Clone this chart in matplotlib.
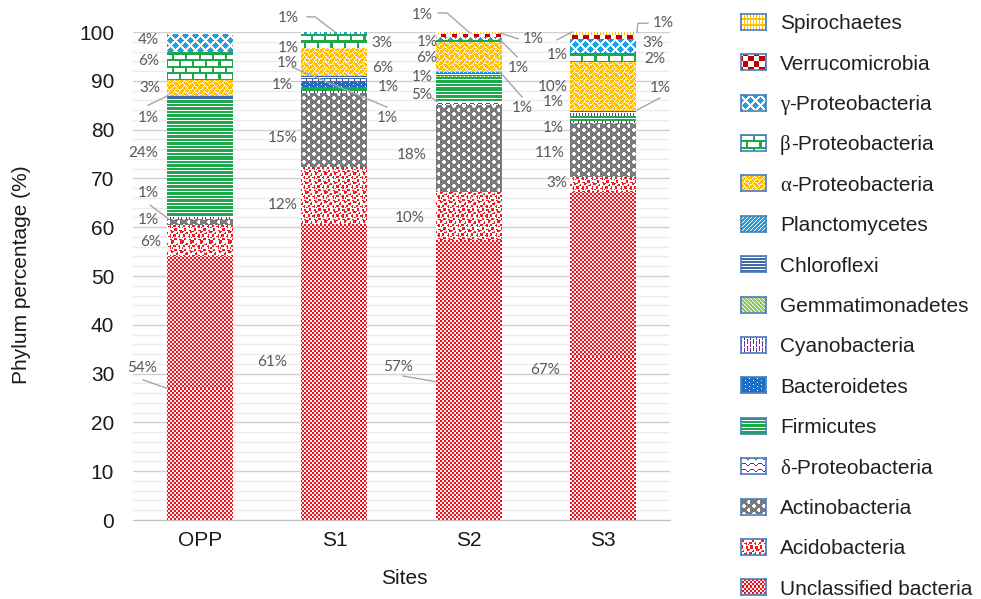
import matplotlib
matplotlib.use("Agg")
import matplotlib.pyplot as plt
import numpy as np
from matplotlib.colors import to_rgb

# ---- data (percent of reads per site) ----
sites = ["OPP", "S1", "S2", "S3"]

unclassified     = [54.2, 60.6, 57.3, 67.3]
acidobacteria    = [6.2, 11.8, 10.0, 3.0]
actinobacteria   = [1.2, 15.1, 17.8, 11.0]
delta_proteo     = [0.5, 0.5, 0.6, 0.5]
firmicutes       = [24.2, 0.7, 5.0, 1.0]
bacteroidetes    = [0.0, 1.2, 0.0, 0.0]
cyanobacteria    = [0.0, 0.5, 0.0, 0.5]
gemmatimonadetes = [0.0, 0.0, 0.3, 0.0]
chloroflexi      = [0.5, 0.6, 0.6, 0.6]
planctomycetes   = [0.0, 0.0, 0.3, 0.0]
alpha_proteo     = [3.3, 5.8, 6.0, 10.0]
beta_proteo      = [5.9, 2.7, 0.5, 1.7]
gamma_proteo     = [3.6, 0.5, 0.6, 3.0]
verrucomicrobia  = [0.0, 0.0, 0.5, 0.7]
spirochaetes     = [0.0, 0.0, 0.5, 0.5]

# stack order, bottom -> top: (key, legend name, values)
stack = [
    ("uncl", "Unclassified bacteria", unclassified),
    ("acido", "Acidobacteria", acidobacteria),
    ("actino", "Actinobacteria", actinobacteria),
    ("delta", "δ-Proteobacteria", delta_proteo),
    ("firm", "Firmicutes", firmicutes),
    ("bacter", "Bacteroidetes", bacteroidetes),
    ("cyano", "Cyanobacteria", cyanobacteria),
    ("gemm", "Gemmatimonadetes", gemmatimonadetes),
    ("chloro", "Chloroflexi", chloroflexi),
    ("plancto", "Planctomycetes", planctomycetes),
    ("alpha", "α-Proteobacteria", alpha_proteo),
    ("beta", "β-Proteobacteria", beta_proteo),
    ("gamma", "γ-Proteobacteria", gamma_proteo),
    ("verru", "Verrucomicrobia", verrucomicrobia),
    ("spiro", "Spirochaetes", spirochaetes),
]

# data label placement: (site index, key, x, y) and leader lines
labels = [
    (0, "gamma", -0.387, 98.4), (0, "beta", -0.387, 94.1), (0, "alpha", -0.372, 88.5),
    (0, "chloro", -0.387, 82.4), (0, "firm", -0.425, 75.2), (0, "delta", -0.387, 67.0),
    (0, "actino", -0.387, 61.5), (0, "acido", -0.372, 57.0), (0, "uncl", -0.433, 31.1),
    (1, "gamma", 0.655, 102.9), (1, "chloro", 0.655, 96.7), (1, "beta", 1.355, 97.7),
    (1, "cyano", 0.648, 93.6), (1, "alpha", 1.362, 92.6), (1, "bacter", 0.61, 89.1),
    (1, "firm", 1.40, 88.7), (1, "delta", 1.391, 82.4), (1, "actino", 0.617, 78.3),
    (1, "acido", 0.617, 64.5), (1, "uncl", 0.535, 32.4),
    (2, "spiro", 1.653, 103.5), (2, "verru", 2.480, 98.6), (2, "gamma", 1.690, 97.95),
    (2, "alpha", 1.690, 94.7), (2, "beta", 2.368, 92.6), (2, "chloro", 1.653, 90.8),
    (2, "firm", 1.653, 87.1), (2, "delta", 2.398, 84.4), (2, "actino", 1.579, 74.8),
    (2, "acido", 1.564, 61.9), (2, "uncl", 1.475, 31.4),
    (3, "spiro", 3.448, 101.8), (3, "verru", 2.659, 95.3), (3, "gamma", 3.373, 97.7),
    (3, "beta", 3.388, 94.5), (3, "alpha", 2.629, 88.7), (3, "chloro", 2.629, 85.7),
    (3, "firm", 3.425, 88.5), (3, "delta", 2.629, 80.3), (3, "actino", 2.606, 75.2),
    (3, "acido", 2.659, 69.1), (3, "uncl", 2.569, 30.7),
]
leaders = [
    [(-0.387, 85.0), (-0.246, 86.9)],
    [(-0.372, 64.5), (-0.240, 61.8)],
    [(-0.425, 28.7), (-0.247, 27.0)],
    [(0.796, 103.1), (0.856, 103.1), (1.005, 100.0)],
    [(0.685, 92.8), (1.391, 84.6)],
    [(1.772, 103.9), (1.839, 103.9), (2.010, 99.8)],
    [(2.368, 98.6), (2.234, 99.8)],
    [(2.361, 94.9), (2.234, 98.4)],
    [(1.727, 86.5), (1.765, 85.7)],
    [(2.398, 86.7), (2.234, 91.8)],
    [(1.512, 29.5), (1.765, 28.3)],
    [(3.336, 101.8), (3.261, 101.8), (3.254, 100.0)],
    [(2.659, 98.4), (2.771, 100.0)],
    [(3.425, 86.5), (3.254, 84.0)],
]

# ---- fill patterns ('#' = colour, '.' = background) ----
tiles = {
    "uncl": (["##..", "##..", "..##", "..##"], "#e8141f", "#ffecec", 1.0),
    "acido": (["#.....##", "...#..##", "..##....", "##...#..",
               "##..##..", ".....#.#", ".##.....", ".##..##."], "#ee1c25", "white", 1.2),
    "actino": (["###..#####", "##....####", "##....####", "###..#####",
                "########..", "#######...", "#######...", "########.."], "#7a7a7a", "white", 1.0),
    "delta": (["........", "##....##", "..#..#..", "...##...", "........", "........"],
              "#7030a0", "white", 1.0),
    "firm": (["#", "#", ".", "#", "#", "#", "."], "#1ea84c", "white", 1.0),
    "bacter": (["#.######", "########", "#####.##", "########"], "#1f6fc0", "white", 1.0),
    "cyano": (["#..#..", "#..#..", "#.....", "#..#..", "...#..", "#..#.."], "#7030a0", "white", 1.0),
    "gemm": ([".###", "#.##", "##.#", "###."], "#8fcf4c", "white", 1.0),
    "chloro": (["#", "#", "."], "#3f6aa8", "white", 1.0),
    "plancto": (["###.", "##.#", "#.##", ".###"], "#1aa3e8", "white", 1.0),
    "alpha": (["###.###.", "##.#.#.#", "#.###.##", ".#.###.#",
               "###.###.", "##.#.###", "#.###.##", ".###.#.#"], "#ffc000", "white", 1.25),
    "beta": (["############", "############", "##..........", "##..........",
              "##..........", "##..........", "############", "############",
              "......##....", "......##....", "......##....", "......##...."],
             "#1ea84c", "white", 1.1),
    "gamma": (["####...###", "###.....##", "##...#...#", "#...###...", "...#####..",
               "..#######.", "...#####..", "#...###...", "##...#...#", "###.....##"],
              "#1ea0e6", "white", 1.0),
    "verru": (["#####.....", "#####.....", "#####.....", "#####.....", "#####.....",
               ".....#####", ".....#####", ".....#####", ".....#####", ".....#####"],
              "#c00000", "white", 1.1),
    "spiro": (["######", "#..#..", "#..#..", "#..#..", "#..#..", "######"], "#ffc000", "white", 1.0),
}

W, H = 981, 599


def texture(key, left, top, w, h):
    rows, fg, bg, s = tiles[key]
    tile = np.array([[c == "#" for c in r] for r in rows])
    th, tw = tile.shape
    yy = ((top + np.arange(h)) / s).astype(int) % th
    xx = ((left + np.arange(w)) / s).astype(int) % tw
    mask = tile[yy[:, None], xx[None, :]]
    return np.where(mask[..., None], np.array(to_rgb(fg)), np.array(to_rgb(bg)))


plt.rcParams["font.family"] = ["Liberation Sans", "DejaVu Sans"]
fig = plt.figure(figsize=(W / 100, H / 100), dpi=100)
ax = fig.add_axes([133 / W, 79 / H, 537 / W, 488 / H])
ax.set_xlim(-0.5, 3.5)
ax.set_ylim(0, 100)

x = np.arange(len(sites))
bottom = np.zeros(len(sites))
values = {}
for key, name, vals in stack:
    vals = np.array(vals)
    values[key] = vals
    bars = ax.bar(x, vals, 0.49, bottom=bottom, color="none", linewidth=0)
    for b in bars:
        if b.get_height() <= 0:
            continue
        x0, y0 = b.get_x(), b.get_y()
        x1, y1 = x0 + b.get_width(), y0 + b.get_height()
        (p0x, p0y), (p1x, p1y) = ax.transData.transform([(x0, y0), (x1, y1)])
        w = max(1, int(round(p1x - p0x)))
        h = max(1, int(round(p1y - p0y)))
        img = texture(key, int(round(p0x)), int(round(H - p1y)), w, h)
        ax.imshow(img, extent=(x0, x1, y0, y1), aspect="auto",
                  interpolation="nearest", zorder=2)
    bottom += vals

ax.set_xlim(-0.5, 3.5)
ax.set_ylim(0, 100)
ax.set_xticks(x)
ax.set_xticklabels(sites)
ax.set_yticks(range(0, 101, 10))
ax.set_yticks(np.arange(0, 101, 2), minor=True)
ax.grid(which="minor", axis="y", color="#ececec", lw=1)
ax.grid(which="major", axis="y", color="#d0d0d0", lw=1)
ax.set_axisbelow(True)
ax.tick_params(which="both", length=0)
ax.tick_params(axis="y", pad=13.5, labelsize=15, labelcolor="#1a1a1a")
ax.tick_params(axis="x", pad=8, labelsize=15, labelcolor="#1a1a1a")
for s in ["left", "right", "top"]:
    ax.spines[s].set_visible(False)
ax.spines["bottom"].set_color("#bfbfbf")

# data labels
for site, key, lx, ly in labels:
    v = values[key][site]
    ax.text(lx, ly, f"{int(v + 0.5)}%", ha="center", va="center", fontsize=11,
            family="Lato", color="#595959", clip_on=False, zorder=4)
for pts in leaders:
    xs, ys = zip(*pts)
    ax.plot(xs, ys, color="#a6a6a6", lw=1, clip_on=False, zorder=4)

fig.text(22 / W, 1 - 275 / H, "Phylum percentage (%)", rotation=90,
         ha="center", va="center", fontsize=15, color="#1a1a1a")
fig.text(404 / W, 1 - 578 / H, "Sites", ha="center", va="center",
         fontsize=15, color="#1a1a1a")

# legend, top -> bottom
for i, (key, name, vals) in enumerate(stack[::-1]):
    yc = 21.7 + i * 40.4
    sw = fig.add_axes([741 / W, 1 - (yc + 8) / H, 25 / W, 16 / H])
    sw.imshow(texture(key, 741, int(yc - 8), 25, 16), aspect="auto", interpolation="nearest")
    sw.set_xticks([])
    sw.set_yticks([])
    for sp in sw.spines.values():
        sp.set_color("#4a7ebb")
        sp.set_linewidth(1.2)
    yb = 1 - (yc + 7.5) / H
    if name[0] in "αβγδ":
        t = fig.text(780 / W, yb, name[0], family="Liberation Serif", fontsize=15,
                     va="baseline", ha="left", color="#231f20")
        ax.annotate(name[1:], xy=(1, yb), xycoords=(t, "figure fraction"),
                    ha="left", va="baseline", fontsize=15, color="#231f20",
                    annotation_clip=False)
    else:
        fig.text(780 / W, yb, name, fontsize=15, va="baseline", ha="left", color="#231f20")

fig.savefig("out.png", dpi=100)
